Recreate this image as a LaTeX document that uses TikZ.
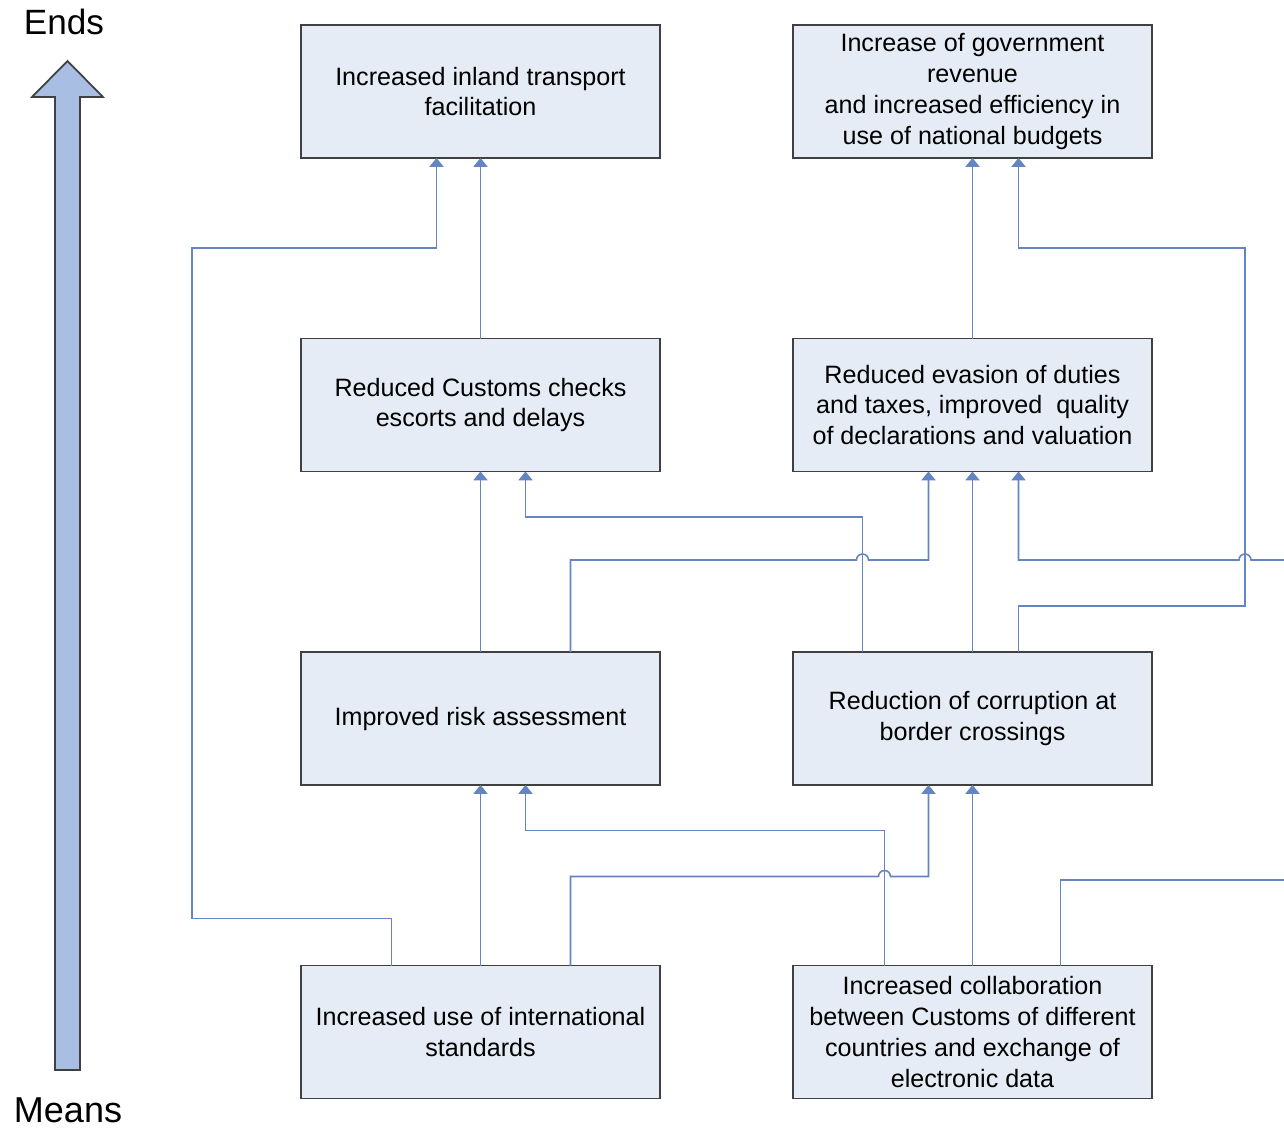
\documentclass[tikz,border=0pt]{standalone}
\usepackage{fontspec}
\setmainfont{Liberation Sans}
\usetikzlibrary{arrows.meta}
\definecolor{boxfill}{RGB}{230,236,246}
\definecolor{boxline}{RGB}{64,64,64}
\definecolor{linkblue}{RGB}{100,132,194}
\definecolor{bigarrow}{RGB}{168,191,227}

\begin{document}
\begin{tikzpicture}[x=0.02cm,y=-0.02cm,
	goal_node/.style={rectangle,fill=boxfill,draw=boxline,line width=1pt,minimum width=7.18cm,minimum height=2.66cm,align=center,inner sep=2pt,outer sep=0pt,font=\fontsize{14.3}{17.6}\selectfont},
	link/.style={draw=linkblue,line width=0.9pt,-{Triangle[width=8pt,length=5pt]}},
	plain_link/.style={draw=linkblue,line width=0.9pt}]
		\useasboundingbox (0,0) rectangle (1284,1128);

		% ends / means arrow
		\draw[fill=bigarrow,draw=boxline,line width=1pt] (55,1070) -- (55,97) -- (32,97) -- (67.5,61) -- (103,97) -- (80,97) -- (80,1070) -- cycle;
		\node[font=\fontsize{20}{24}\selectfont] (ends) at (64,22) {Ends};
		\node[font=\fontsize{20.5}{24}\selectfont] (means) at (68,1110) {Means};

		\node[goal_node] (inland) at (480.5,91.5) {Increased inland transport\\facilitation};
		\node[goal_node] (revenue) at (972.5,91.5) {Increase of government\\revenue\\and increased efficiency in\\use of national budgets};
		\node[goal_node] (checks) at (480.5,405) {Reduced Customs checks\\escorts and delays};
		\node[goal_node] (evasion) at (972.5,405) {Reduced evasion of duties\\and taxes, improved\ \ quality\\of declarations and valuation};
		\node[goal_node] (risk) at (480.5,718.5) {Improved risk assessment};
		\node[goal_node] (corrupt) at (972.5,718.5) {Reduction of corruption at\\border crossings};
		\node[goal_node] (std) at (480.5,1032) {Increased use of international\\standards};
		\node[goal_node] (collab) at (972.5,1032) {Increased collaboration\\between Customs of different\\countries and exchange of\\electronic data};

		\coordinate (edge_a) at (1284,560);
		\coordinate (edge_b) at (1284,880);

		\draw[link] ([xshift=-1.78cm]std.north) -- ++(0,-47) -| (192,248) -| ([xshift=-0.88cm]inland.south);
		\draw[link] (checks.north) -- (inland.south);
		\draw[link] (evasion.north) -- (revenue.south);
		\draw[link] ([xshift=0.92cm]corrupt.north) -- ++(0,-46) -| (1245,248) -| ([xshift=0.92cm]revenue.south);
		\draw[link] (edge_a) -- (1251,560) arc (0:180:0.12cm) -| ([xshift=0.92cm]evasion.south);
		\draw[link] (risk.north) -- (checks.south);
		\draw[link] ([xshift=1.8cm]risk.north) -- ++(0,-92) -- ++(286,0) arc (180:0:0.12cm) -| ([xshift=-0.88cm]evasion.south);
		\draw[link] ([xshift=-2.2cm]corrupt.north) -- ++(0,-135) -| ([xshift=0.9cm]checks.south);
		\draw[link] (corrupt.north) -- (evasion.south);
		\draw[link] (std.north) -- (risk.south);
		\draw[link] ([xshift=1.8cm]std.north) -- ++(0,-89) -- ++(308,0) arc (180:0:0.12cm) -| ([xshift=-0.88cm]corrupt.south);
		\draw[link] ([xshift=-1.76cm]collab.north) -- ++(0,-135) -| ([xshift=0.9cm]risk.south);
		\draw[link] (collab.north) -- (corrupt.south);
		\draw[plain_link] ([xshift=1.76cm]collab.north) |- (edge_b);
		\end{tikzpicture}
\end{document}
